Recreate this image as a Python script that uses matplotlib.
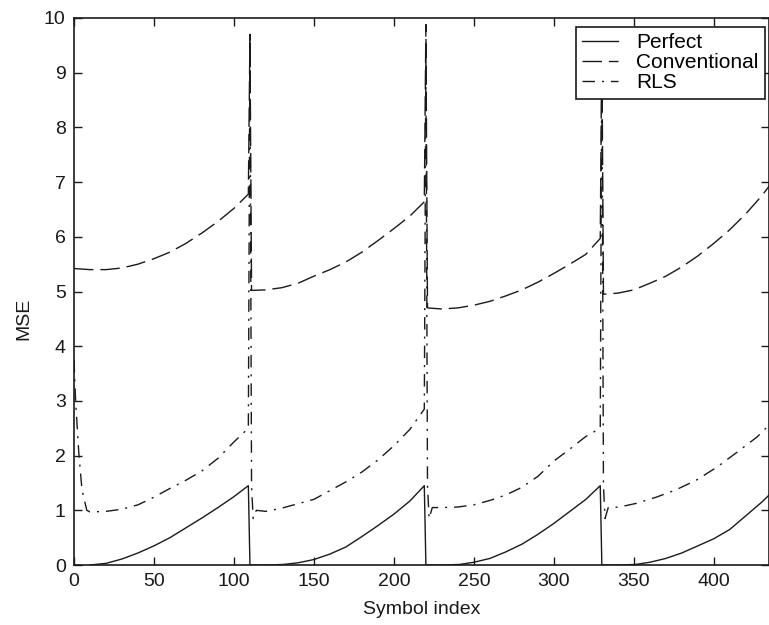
import numpy as np
import matplotlib
matplotlib.use("Agg")
import matplotlib.pyplot as plt

# Symbol index / MSE values (blocks of ~110 symbols)
perfect_x = [10, 20, 30, 40, 50, 60, 70, 80, 90, 100, 109, 110,
             121, 131, 140, 150, 160, 170, 180, 190, 200, 210, 219, 220,
             231, 241, 250, 260, 270, 280, 290, 300, 310, 320, 329, 330,
             341, 351, 360, 370, 380, 390, 400, 410, 420, 430, 436]
perfect_y = [0.0, 0.03, 0.11, 0.22, 0.35, 0.50, 0.68, 0.86, 1.05, 1.25, 1.45, 0.0,
             0.0, 0.01, 0.04, 0.10, 0.20, 0.33, 0.52, 0.72, 0.93, 1.17, 1.45, 0.0,
             0.0, 0.01, 0.05, 0.12, 0.24, 0.38, 0.56, 0.76, 0.98, 1.20, 1.45, 0.0,
             0.0, 0.01, 0.05, 0.12, 0.22, 0.35, 0.48, 0.65, 0.90, 1.15, 1.32]

conv_x = [0, 10, 20, 30, 40, 50, 60, 70, 80, 90, 100, 109, 110,
          111, 120, 130, 140, 150, 160, 170, 180, 190, 200, 210, 219, 220,
          221, 230, 240, 250, 260, 270, 280, 290, 300, 310, 320, 329, 330,
          331, 340, 350, 360, 370, 380, 390, 400, 410, 420, 430, 436]
conv_y = [5.42, 5.40, 5.40, 5.43, 5.50, 5.60, 5.72, 5.88, 6.07, 6.28, 6.52, 6.78, 9.70,
          5.02, 5.03, 5.07, 5.15, 5.28, 5.40, 5.54, 5.72, 5.93, 6.15, 6.38, 6.64, 9.88,
          4.70, 4.68, 4.70, 4.75, 4.82, 4.92, 5.03, 5.17, 5.33, 5.50, 5.68, 5.97, 9.60,
          4.95, 4.97, 5.03, 5.15, 5.28, 5.45, 5.65, 5.88, 6.13, 6.42, 6.75, 6.98]

rls_x = [0, 1, 3, 5, 8, 10, 20, 30, 40, 50, 60, 70, 80, 90, 100, 109, 110,
         111, 112, 114, 120, 130, 140, 150, 160, 170, 180, 190, 200, 210, 219, 220,
         221, 222, 224, 230, 240, 250, 260, 270, 280, 290, 300, 310, 320, 329, 330,
         331, 332, 334, 341, 352, 364, 376, 389, 402, 414, 427, 436]
rls_y = [3.75, 3.0, 2.05, 1.37, 1.0, 0.97, 0.98, 1.02, 1.10, 1.24, 1.40, 1.55, 1.72, 1.95, 2.25, 2.50, 9.70,
         1.45, 0.85, 1.00, 0.98, 1.04, 1.12, 1.20, 1.36, 1.52, 1.70, 1.92, 2.18, 2.48, 2.85, 9.30,
         1.45, 0.85, 1.05, 1.05, 1.06, 1.10, 1.18, 1.28, 1.42, 1.62, 1.90, 2.12, 2.35, 2.50, 9.50,
         1.45, 0.85, 1.05, 1.06, 1.13, 1.24, 1.37, 1.55, 1.79, 2.05, 2.34, 2.60]

x_ticks = [0, 50, 100, 150, 200, 250, 300, 350, 400]
y_ticks = list(range(0, 11))

plt.rcParams["font.family"] = ["Liberation Sans", "DejaVu Sans"]

fig = plt.figure(figsize=(7.69, 6.25), dpi=100)
ax = fig.add_axes([74 / 769, 60 / 625, 1 - 74 / 769, 547 / 625])

ink = "#1a1a1a"
ax.plot(perfect_x, perfect_y, color=ink, lw=1.0, label="Perfect")
ax.plot(conv_x, conv_y, color=ink, lw=1.0, dashes=(14, 5), label="Conventional")
ax.plot(rls_x, rls_y, color=ink, lw=1.0, dashes=(9, 5, 1.5, 5), label="RLS")

ax.set_xlim(0, 434.5)
ax.set_ylim(0, 10)
ax.set_xticks(x_ticks)
ax.set_yticks(y_ticks)
ax.tick_params(direction="in", top=True, right=True, length=6, width=1,
               labelsize=14, pad=6, colors=ink)
for s in ax.spines.values():
    s.set_linewidth(1.2)
    s.set_color(ink)

ax.set_xlabel("Symbol index", fontsize=14, color=ink)
ax.set_ylabel("MSE", fontsize=14, color=ink)
ax.xaxis.set_label_coords(0.5, -0.065)
ax.yaxis.set_label_coords(-0.06, 0.45)

leg = ax.legend(loc="upper right", bbox_to_anchor=(765 / 769, 1 - 27 / 625),
                bbox_transform=fig.transFigure, borderaxespad=0, fontsize=15,
                fancybox=False, framealpha=1, edgecolor=ink, handlelength=1.7,
                labelspacing=0.05, borderpad=0.3, handletextpad=0.9)
leg.get_frame().set_linewidth(1.2)

fig.savefig("out.png", dpi=100)
